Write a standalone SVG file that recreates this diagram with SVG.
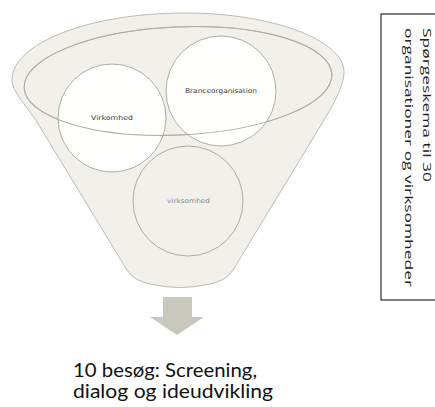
<svg xmlns="http://www.w3.org/2000/svg" width="435" height="407" viewBox="0 0 435 407">
  <style>
    .funnel { fill: #f1f0eb; stroke: #bdbbb1; stroke-width: 1; }
    .rim { fill: none; stroke: #aeaca2; stroke-width: 1; }
    .bubble { fill: #ffffff; fill-opacity: 0.94; stroke: #aeaca2; stroke-width: 1; }
    .bubble-plain { fill: #f1f0eb; stroke: #aeaca2; stroke-width: 1; }
    .lbl { font-family: "DejaVu Sans", Verdana, sans-serif; font-size: 6.6px; text-anchor: middle; }
    .dark { fill: #3a3a3a; }
    .grey { fill: #8a8a8a; }
    .caption { font-family: Lato, "Open Sans", "Liberation Sans", sans-serif; font-size: 19.5px; fill: #111111; }
    .side { font-family: "Open Sans", "Noto Sans", "DejaVu Sans", sans-serif; font-size: 11.5px; fill: #222222; }
  </style>

  <!-- funnel body: wide oval mouth narrowing to a rounded spout -->
  <g id="funnel">
    <path class="funnel" d="M 40,127 C 28,107 12,92 12,80 C 12,43 90,13 185,13 C 272,13 344,40 344,72 C 344,88 329,112 318,130 L 233,270 Q 226,282 205,285 Q 180,290 155,285 Q 134,282 127,270 Z"/>
    <ellipse class="funnel" cx="178" cy="81" rx="154" ry="54" transform="rotate(-2.5 178 81)"/>
  </g>

  <g id="node-virkomhed">
    <circle class="bubble" cx="112" cy="118" r="54"/>
    <text class="lbl dark" x="112" y="120" textLength="42" lengthAdjust="spacingAndGlyphs">Virkomhed</text>
  </g>

  <g id="node-branceorganisation">
    <circle class="bubble" cx="221" cy="91" r="55"/>
    <text class="lbl dark" x="221" y="92.5" textLength="72" lengthAdjust="spacingAndGlyphs">Branceorganisation</text>
  </g>

  <!-- rim line of the mouth passes over the two upper circles -->
  <ellipse class="rim" cx="178" cy="81" rx="154" ry="54" transform="rotate(-2.5 178 81)"/>

  <g id="node-virksomhed">
    <circle class="bubble-plain" cx="188" cy="201" r="55"/>
    <text class="lbl grey" x="188.5" y="202.5" textLength="43" lengthAdjust="spacingAndGlyphs">virksomhed</text>
  </g>

  <g id="connectors">
    <polygon fill="#c9c8bc" points="163,297 192,297 192,317 204,317 177,335 150,317 163,317"/>
  </g>

  <g id="node-result">
    <text class="caption" x="73" y="377" textLength="184" lengthAdjust="spacingAndGlyphs">10 besøg: Screening,</text>
    <text class="caption" x="73" y="398" textLength="200" lengthAdjust="spacingAndGlyphs">dialog og ideudvikling</text>
  </g>

  <g id="node-survey">
    <rect x="381" y="14" width="70" height="286" fill="none" stroke="#000000" stroke-width="1"/>
    <g transform="translate(423,28) rotate(90)">
      <text class="side" x="0" y="0" textLength="154" lengthAdjust="spacingAndGlyphs">Spørgeskema  til  30</text>
    </g>
    <g transform="translate(405,28) rotate(90)">
      <text class="side" x="0" y="0" textLength="259" lengthAdjust="spacingAndGlyphs">organisationer og virksomheder</text>
    </g>
  </g>
</svg>
